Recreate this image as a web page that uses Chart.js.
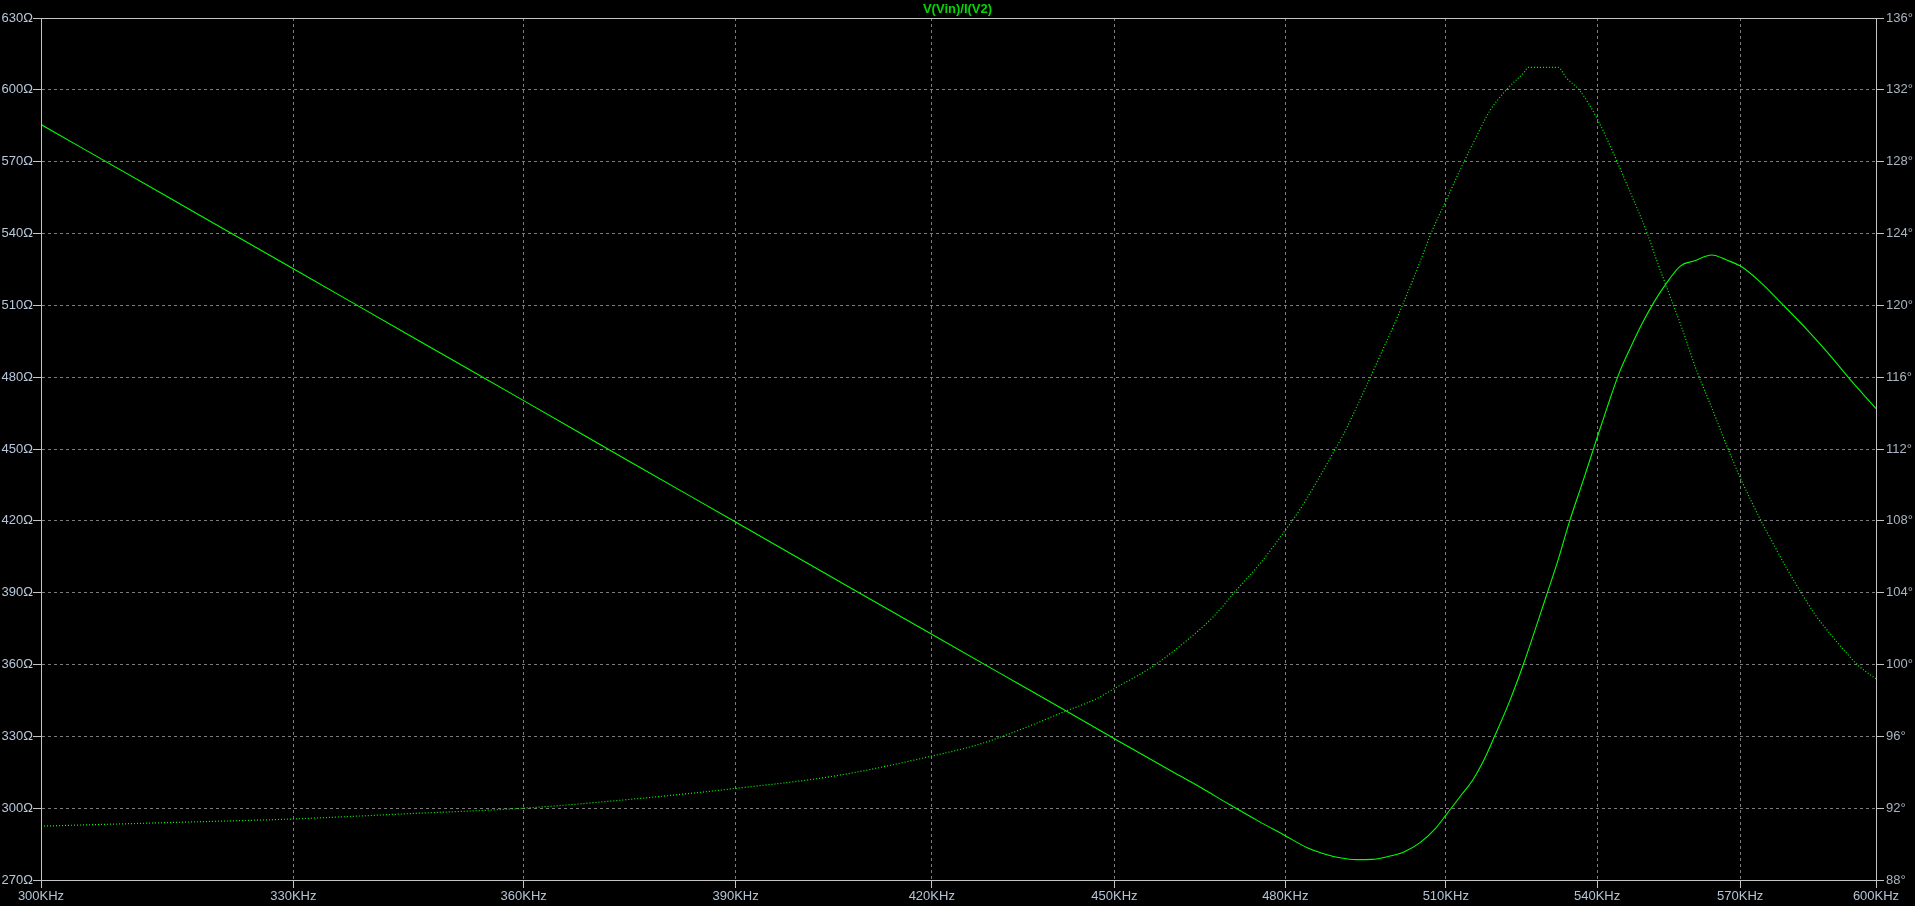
<!DOCTYPE html>
<html>
<head>
<meta charset="utf-8">
<title>V(Vin)/I(V2)</title>
<script src="https://cdn.jsdelivr.net/npm/chart.js@4.4.1/dist/chart.umd.min.js"></script>
<style>
    html, body {
        margin: 0;
        padding: 0;
        background: #000;
        overflow: hidden;
    }
    #plot {
        display: block;
    }
</style>
</head>
<body>
<canvas id="plot" width="1915" height="906"></canvas>
<script>
// trace name and axis ticks
const traceName = 'V(Vin)/I(V2)';
const freqTicks = [300, 330, 360, 390, 420, 450, 480, 510, 540, 570, 600]; // KHz
const ohmTicks = [270, 300, 330, 360, 390, 420, 450, 480, 510, 540, 570, 600, 630];
const degTicks = [88, 92, 96, 100, 104, 108, 112, 116, 120, 124, 128, 132, 136];

// magnitude (solid, left axis)
const magFreq = [300, 315, 330, 345, 360, 375, 390, 405, 420, 431, 438.4, 450, 460, 465, 470, 475, 480,
    484, 487, 490, 493, 496, 499, 502, 505, 508, 510, 513, 515.3, 517.5, 519.5, 522.4, 525.1,
    527.7, 529.9, 532.1, 534.4, 537.2, 539.4, 542.1, 544.5, 546.9, 549.3, 551.5, 553.8, 557.3, 560.1,
    563.9, 567.1, 570.3, 574.3, 579.4, 584.6, 589, 594.1, 600];
const magOhm = [585.5, 554.7, 525.3, 497.1, 470.2, 444.3, 419.5, 395.6, 372.6, 356.3, 345.6, 329, 315.2, 308.5, 301.5, 294.8, 288.5,
    283.5, 281, 279.3, 278.5, 278.6, 279.8, 281.7, 285.5, 291.5, 297, 305.5, 312, 320.5, 330, 344.4, 359.6,
    375.7, 389.6, 403.6, 419.7, 437, 450.9, 467.6, 481.6, 492.5, 502.5, 510.5, 517.7, 526.5, 528.5,
    531, 528.9, 526.1, 519.8, 510, 499.8, 490.6, 479.2, 466.9];

// phase (dotted, right axis)
const phaseFreq = [300, 315, 330, 345, 360, 375, 390, 405, 420, 428, 436, 441, 447, 450, 456.4, 461.8, 467.1,
    471.2, 475.4, 480, 482.6, 485.4, 488.7, 490.9, 494.3, 497.4, 501, 503.4, 505.3, 507.3, 510, 512.7,
    515.6, 518.5, 521.8, 525.4, 526.1, 532.1, 533.8, 536.5, 540, 547.5, 550.2, 552.3, 555.1, 557.9,
    560.4, 563.9, 567.4, 570, 572.1, 574.8, 577, 580, 583.4, 586.3, 590.4, 593.3, 596.2, 600];
const phaseDeg = [91.0, 91.2, 91.4, 91.7, 92.0, 92.5, 93.1, 93.8, 94.9, 95.6, 96.6, 97.3, 98.1, 98.66, 99.86, 101.16, 102.65,
    104.13, 105.6, 107.47, 108.6, 110.0, 111.75, 112.95, 115.1, 117.13, 119.5, 121.2, 122.6, 124.1, 125.8, 127.5,
    129.2, 130.8, 132.0, 133.0, 133.25, 133.25, 132.66, 131.95, 130.4, 125.86, 124.1, 122.5, 120.5, 118.5,
    116.57, 114.3, 112.0, 110.4, 109.25, 107.85, 106.8, 105.4, 103.95, 102.8, 101.5, 100.65, 99.9, 99.2];

const traceGreen = '#00ff00';
const gridGrey = '#7c7c7c';
const frameGrey = '#c4c4c4';
const labelFont = { family: 'Liberation Sans, Arial, sans-serif', size: 13 };

// top/right frame and the trace title, LTspice style
const plotFrame = {
    id: 'plotFrame',
    afterDraw(chart) {
        const { ctx, chartArea: a } = chart;
        ctx.save();
        ctx.strokeStyle = frameGrey;
        ctx.lineWidth = 1;
        ctx.strokeRect(Math.round(a.left) + 0.5, Math.round(a.top) + 0.5,
            Math.round(a.right - a.left), Math.round(a.bottom - a.top));
        ctx.fillStyle = 'rgb(0, 215, 0)';
        ctx.font = 'bold 13px Liberation Sans, Arial, sans-serif';
        ctx.textAlign = 'center';
        ctx.textBaseline = 'middle';
        ctx.fillText(traceName, chart.width / 2, 9);
        ctx.restore();
    }
};

const bg = {
    id: 'bg',
    beforeDraw(chart) {
        const ctx = chart.ctx;
        ctx.save();
        ctx.fillStyle = '#000';
        ctx.fillRect(0, 0, chart.width, chart.height);
        ctx.restore();
    }
};

new Chart(document.getElementById('plot').getContext('2d'), {
    type: 'line',
    data: {
        datasets: [{
            label: 'magnitude',
            data: magFreq.map((f, i) => ({ x: f, y: magOhm[i] })),
            yAxisID: 'yMag',
            borderColor: traceGreen,
            borderWidth: 1.1,
            pointRadius: 0,
            cubicInterpolationMode: 'monotone',
            fill: false
        }, {
            label: 'phase',
            data: phaseFreq.map((f, i) => ({ x: f, y: phaseDeg[i] })),
            yAxisID: 'yPhase',
            borderColor: traceGreen,
            borderWidth: 1.2,
            borderDash: [1, 2],
            pointRadius: 0,
            cubicInterpolationMode: 'monotone',
            fill: false
        }]
    },
    options: {
        responsive: false,
        animation: false,
        devicePixelRatio: 1,
        layout: { padding: { top: 18, left: 0, right: 0, bottom: 0 } },
        plugins: {
            legend: { display: false },
            title: { display: false },
            tooltip: { enabled: false }
        },
        scales: {
            x: {
                type: 'logarithmic',
                min: 300,
                max: 600,
                afterBuildTicks: (scale) => { scale.ticks = freqTicks.map(v => ({ value: v })); },
                afterFit: (scale) => { scale.height = 26; },
                ticks: {
                    autoSkip: false,
                    maxRotation: 0,
                    minRotation: 0,
                    padding: 1,
                    color: '#b4c4d6',
                    font: labelFont,
                    callback: (v) => v + 'KHz'
                },
                grid: { color: gridGrey, tickColor: frameGrey, tickLength: 8, lineWidth: 1 },
                border: { color: frameGrey, dash: [3, 3] }
            },
            yMag: {
                type: 'linear',
                position: 'left',
                min: 270,
                max: 630,
                afterBuildTicks: (scale) => { scale.ticks = ohmTicks.map(v => ({ value: v })); },
                afterFit: (scale) => { scale.width = 41; },
                ticks: {
                    padding: 0,
                    color: '#b8c8dc',
                    font: labelFont,
                    callback: (v) => v + 'Ω'
                },
                grid: { color: gridGrey, tickColor: frameGrey, tickLength: 8, lineWidth: 1 },
                border: { color: frameGrey, dash: [3, 3] }
            },
            yPhase: {
                type: 'linear',
                position: 'right',
                min: 88,
                max: 136,
                afterBuildTicks: (scale) => { scale.ticks = degTicks.map(v => ({ value: v })); },
                afterFit: (scale) => { scale.width = 39; },
                ticks: {
                    padding: 2,
                    color: '#aab4c0',
                    font: labelFont,
                    callback: (v) => v + '°'
                },
                grid: { drawOnChartArea: false, tickColor: frameGrey, tickLength: 8 },
                border: { color: frameGrey }
            }
        }
    },
    plugins: [bg, plotFrame]
});
</script>
</body>
</html>
